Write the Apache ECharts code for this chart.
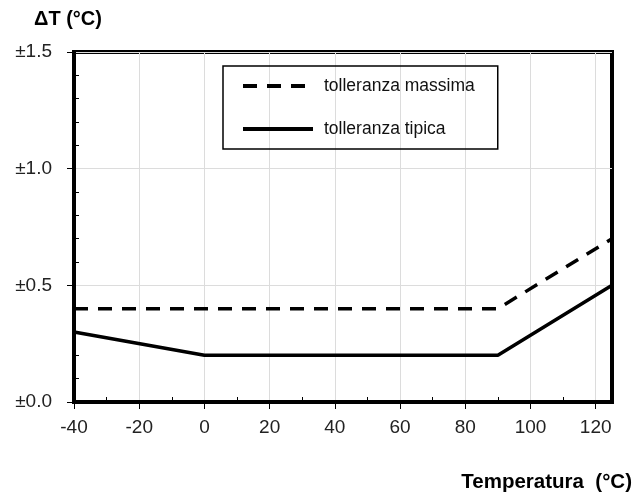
<!DOCTYPE html>
<html><head><meta charset="utf-8">
<script src="https://cdn.jsdelivr.net/npm/echarts@6/dist/echarts.min.js"></script>
<style>html,body{margin:0;padding:0;background:#fff}#c{width:638px;height:500px}</style>
</head><body><div id="c"></div>
<script>
const seriesNames = ['tolleranza massima', 'tolleranza tipica'];
const maxTol = [[-40, 0.4], [90, 0.4], [125, 0.7]];
const typTol = [[-40, 0.3], [0, 0.2], [90, 0.2], [125, 0.5]];
const xMajorTicks = [-40, -20, 0, 20, 40, 60, 80, 100, 120];
const xMinorTicks = [-30, -10, 10, 30, 50, 70, 90, 110];
const yMajorTicks = [0, 0.5, 1.0, 1.5];
const yMinorTicks = [0.1, 0.2, 0.3, 0.4, 0.6, 0.7, 0.8, 0.9, 1.1, 1.2, 1.3, 1.4];
const font = 'Liberation Sans, Arial, sans-serif';

const chart = echarts.init(document.getElementById('c'));
chart.setOption({
  animation: false,
  grid: { left: 74, right: 26, top: 52, bottom: 98, show: true, borderColor: '#000', borderWidth: 4, backgroundColor: 'transparent' },
  legend: {
    data: seriesNames,
    orient: 'vertical',
    left: 223, top: 66,
    padding: [11, 23, 11, 18],
    itemGap: 25,
    itemWidth: 70, itemHeight: 14,
    borderColor: '#000', borderWidth: 1.5,
    itemStyle: { opacity: 0 },
    lineStyle: { width: 4 },
    textStyle: { fontFamily: font, fontSize: 17.5, color: '#111', padding: [0, 0, 0, 6] }
  },
  graphic: [
    { type: 'text', left: 34, top: 9, style: { text: 'ΔT (°C)', fontFamily: font, fontWeight: 'bold', fontSize: 20, fill: '#000' } },
    { type: 'text', right: 6, top: 472, style: { text: 'Temperatura  (°C)', fontFamily: font, fontWeight: 'bold', fontSize: 20.5, fill: '#000' } }
  ],
  xAxis: [
    {
      type: 'value', min: -40, max: 125, interval: 20,
      axisLine: { show: true, onZero: false, lineStyle: { color: '#000', width: 4 } },
      axisTick: { show: true, customValues: xMajorTicks, length: 7, lineStyle: { color: '#000', width: 1 } },
      axisLabel: { customValues: xMajorTicks, fontFamily: font, fontSize: 19, color: '#222', margin: 16 },
      splitLine: { show: true, lineStyle: { color: '#dcdcdc', width: 1 } }
    },
    {
      type: 'value', min: -40, max: 125, interval: 10, position: 'bottom',
      axisLine: { show: false, onZero: false },
      axisTick: { show: true, inside: true, customValues: xMinorTicks, length: 5, lineStyle: { color: '#000', width: 1 } },
      axisLabel: { show: false },
      splitLine: { show: false }
    }
  ],
  yAxis: [
    {
      type: 'value', min: 0, max: 1.5, interval: 0.5,
      axisLine: { show: true, onZero: false, lineStyle: { color: '#000', width: 4 } },
      axisTick: { show: true, customValues: yMajorTicks, length: 7, lineStyle: { color: '#000', width: 1 } },
      axisLabel: { customValues: yMajorTicks, fontFamily: font, fontSize: 19, color: '#222', margin: 22,
        formatter: v => '±' + v.toFixed(1) },
      splitLine: { show: true, lineStyle: { color: '#dcdcdc', width: 1 } }
    },
    {
      type: 'value', min: 0, max: 1.5, interval: 0.1, position: 'left',
      axisLine: { show: false, onZero: false },
      axisTick: { show: true, inside: true, customValues: yMinorTicks, length: 5, lineStyle: { color: '#000', width: 1 } },
      axisLabel: { show: false },
      splitLine: { show: false }
    }
  ],
  series: [
    { name: seriesNames[0], type: 'line', data: maxTol, symbol: 'none', xAxisIndex: 0, yAxisIndex: 0,
      lineStyle: { color: '#000', width: 3.5, type: [14, 10] }, itemStyle: { color: '#000' }, z: 3 },
    { name: seriesNames[1], type: 'line', data: typTol, symbol: 'none', xAxisIndex: 0, yAxisIndex: 0,
      lineStyle: { color: '#000', width: 3.5 }, itemStyle: { color: '#000' }, z: 3 }
  ]
});
</script></body></html>
